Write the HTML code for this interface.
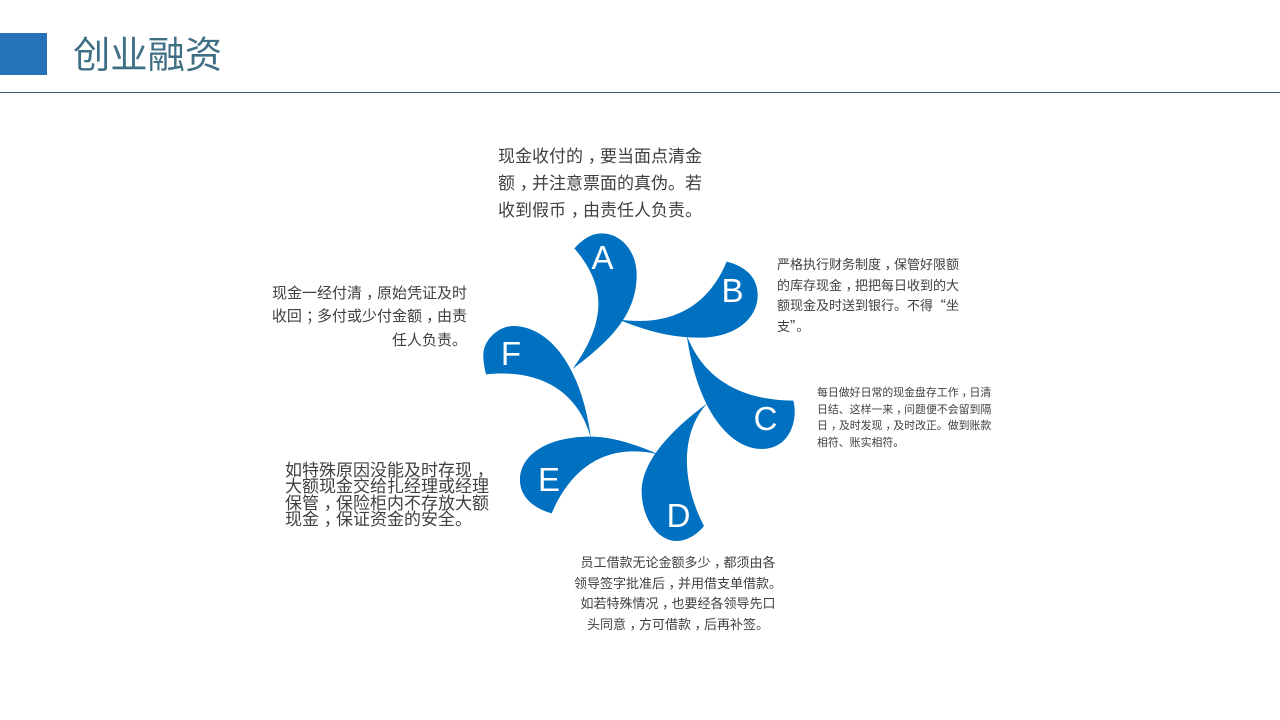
<!DOCTYPE html>
<html lang="zh">
<head>
<meta charset="utf-8">
<style>
html,body{margin:0;padding:0;background:#fff;}
#p{position:relative;width:1280px;height:720px;overflow:hidden;background:#fff;font-family:"Noto Sans CJK SC","WenQuanYi Zen Hei",sans-serif;color:#404040;}
.t{position:absolute;white-space:pre;}
.c{font-style:normal;position:relative;left:.28em;}
svg{position:absolute;left:0;top:0;}
</style>
</head>
<body>
<div id="p">
<div style="position:absolute;left:0;top:33px;width:47px;height:42px;background:#2672b8;"></div>
<div class="t" style="left:73px;top:25px;font-size:37.3px;line-height:54px;color:#3f6f85;">创业融资</div>
<div style="position:absolute;left:0;top:92px;width:1280px;height:1px;background:#2f5f6f;"></div>

<svg width="1280" height="720" viewBox="0 0 1280 720">
<g fill="#0070c0" transform="translate(470 220) scale(0.33333)">
<path d="M308 447C410 370 500 290 500 165C500 90 450 40 395 40C360 40 335 62 313 85C365 145 388 205 385 260C382 330 345 395 308 447Z"/>
<path d="M445 298C590 320 710 270 770 125C830 140 863 175 863 225C863 300 790 353 690 353C600 353 520 330 445 298Z"/>
<path d="M650 345C690 450 780 540 970 542C985 600 960 687 875 687C790 687 685 590 650 345Z"/>
<path d="M712 550C640 625 625 770 702 918C680 945 650 963 620 963C560 963 515 890 515 815C515 720 610 625 712 550Z"/>
<path d="M566 703C420 670 310 730 245 880C190 865 150 830 150 780C150 700 240 650 360 650C430 650 500 675 566 703Z"/>
<path d="M363 656C330 530 230 445 48 463C42 440 40 420 40 405C40 360 85 318 130 318C220 318 330 410 363 656Z"/>
</g>
<g fill="#fff" font-family="Liberation Sans, sans-serif" font-size="33" text-anchor="middle">
<text x="602.5" y="269">A</text>
<text x="732.5" y="302">B</text>
<text x="765.5" y="430">C</text>
<text x="678.5" y="527">D</text>
<text x="549" y="491">E</text>
<text x="511" y="365">F</text>
</g>
</svg>

<div class="t" style="left:498px;top:141px;font-size:17px;line-height:27px;">现金收付的<i class="c">，</i>要当面点清金
额<i class="c">，</i>并注意票面的真伪。若
收到假币<i class="c">，</i>由责任人负责。</div>

<div class="t" style="left:777px;top:254px;font-size:13px;line-height:20.7px;">严格执行财务制度<i class="c">，</i>保管好限额
的库存现金<i class="c">，</i>把把每日收到的大
额现金及时送到银行。不得“坐
支”。</div>

<div class="t" style="left:817px;top:384px;font-size:10.9px;line-height:16.6px;">每日做好日常的现金盘存工作<i class="c">，</i>日清
日结、这样一来<i class="c">，</i>问题便不会留到隔
日<i class="c">，</i>及时发现<i class="c">，</i>及时改正。做到账款
相符、账实相符。</div>

<div class="t" style="left:538px;width:280px;text-align:center;top:552px;font-size:13px;line-height:20.7px;">员工借款无论金额多少<i class="c">，</i>都须由各
领导签字批准后<i class="c">，</i>并用借支单借款。
如若特殊情况<i class="c">，</i>也要经各领导先口
头同意<i class="c">，</i>方可借款<i class="c">，</i>后再补签。</div>

<div class="t" style="left:285px;top:461px;font-size:17px;line-height:16.3px;">如特殊原因没能及时存现<i class="c">，</i>
大额现金交给扎经理或经理
保管<i class="c">，</i>保险柜内不存放大额
现金<i class="c">，</i>保证资金的安全。</div>

<div class="t" style="left:200px;width:267px;text-align:right;top:280.5px;font-size:15px;line-height:23.5px;">现金一经付清<i class="c">，</i>原始凭证及时
收回<i class="c">；</i>多付或少付金额<i class="c">，</i>由责
任人负责。</div>
</div>
</body>
</html>
